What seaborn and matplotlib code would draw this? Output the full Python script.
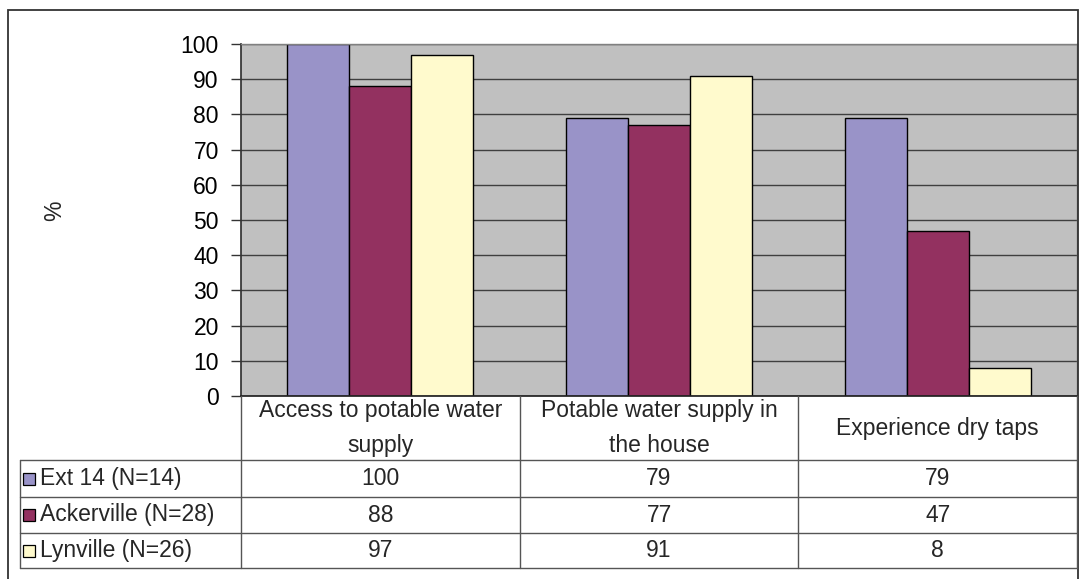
import matplotlib
matplotlib.use("Agg")
import matplotlib.pyplot as plt
from matplotlib.lines import Line2D
from matplotlib.patches import Rectangle
from matplotlib.transforms import blended_transform_factory
import seaborn as sns
import pandas as pd

# Survey results (% of households)
categories = ["Access to potable water\nsupply", "Potable water supply in\nthe house", "Experience dry taps"]
groups = ["Ext 14 (N=14)", "Ackerville (N=28)", "Lynville (N=26)"]
ext14 = [100, 79, 79]
ackerville = [88, 77, 47]
lynville = [97, 91, 8]
colors = ["#9993C8", "#933160", "#FFFACD"]
yticks = list(range(0, 101, 10))

series = [ext14, ackerville, lynville]
df = pd.DataFrame({
    "category": [c for _ in groups for c in categories],
    "group": [g for g in groups for _ in categories],
    "value": [v for s in series for v in s],
})

sns.set_theme(style="white")
plt.rcParams["font.family"] = ["Liberation Sans", "DejaVu Sans"]
FS = 16.5

W, H = 1080, 579
fig = plt.figure(figsize=(W / 100, H / 100), dpi=100)


def fx(x):
    return x / W


def fy(y):
    return 1 - y / H


ax_left, ax_right, ax_top, ax_bottom = 241, 1077, 44, 396
ax = fig.add_axes([fx(ax_left), fy(ax_bottom), fx(ax_right - ax_left), (ax_bottom - ax_top) / H])
ax.set_facecolor("#C0C0C0")

sns.barplot(data=df, x="category", y="value", hue="group", order=categories,
            hue_order=groups, palette=colors, saturation=1, width=0.667,
            edgecolor="black", linewidth=1, legend=False, ax=ax)

ax.set_xlim(-0.5, len(categories) - 0.5)
ax.set_ylim(0, 100)
ax.set_yticks(yticks)
ax.set_yticklabels([str(t) for t in yticks], fontsize=FS, color="black")
ax.set_xticks([])
ax.set_xlabel("")
ax.set_ylabel("")
ax.yaxis.grid(True, color="#3F3F3F", linewidth=1)
ax.set_axisbelow(True)
ax.tick_params(axis="y", direction="out", length=7, width=1, color="#333333", pad=9, left=True)
for side in ["top", "right"]:
    ax.spines[side].set_color("#808080")
    ax.spines[side].set_linewidth(1)
ax.spines["left"].set_color("#333333")
ax.spines["bottom"].set_color("#222222")
for sp in ax.spines.values():
    sp.set_visible(True)

fig.text(fx(55), fy(211), "%", rotation=90, ha="center", va="center", fontsize=FS)

# Outer chart frame
fig.add_artist(Rectangle((fx(8), fy(590)), fx(1078 - 8), (590 - 10) / H,
                         transform=fig.transFigure, fill=False,
                         edgecolor="#333333", linewidth=1.3))

# Data table below the plot, columns aligned with the category axis
tr = blended_transform_factory(ax.transData, fig.transFigure)
line_c = "#555555"
header_top, header_bot = 396, 460
row_edges = [460, 497, 533, 568]
n = len(categories)
for b in [i - 0.5 for i in range(n + 1)]:
    fig.add_artist(Line2D([b, b], [fy(header_top), fy(row_edges[-1])], transform=tr,
                          color=line_c, linewidth=1))
fig.add_artist(Line2D([fx(20), fx(20)], [fy(header_bot), fy(row_edges[-1])],
                      transform=fig.transFigure, color=line_c, linewidth=1))
for y in row_edges:
    fig.add_artist(Line2D([fx(20), fx(ax_right)], [fy(y), fy(y)],
                          transform=fig.transFigure, color=line_c, linewidth=1))

for i, cat in enumerate(categories):
    fig.text(i, fy((header_top + header_bot) / 2), cat, transform=tr, ha="center",
             va="center", fontsize=FS, linespacing=1.65)

for r, (g, s, c) in enumerate(zip(groups, series, colors)):
    yc = (row_edges[r] + row_edges[r + 1]) / 2
    fig.add_artist(Rectangle((fx(23), fy(yc + 6)), fx(12), 12 / H,
                             transform=fig.transFigure, facecolor=c,
                             edgecolor="black", linewidth=0.9))
    fig.text(fx(40), fy(yc), g, ha="left", va="center", fontsize=FS)
    for i, v in enumerate(s):
        fig.text(i, fy(yc), str(v), transform=tr, ha="center", va="center", fontsize=FS)

fig.savefig("out.png", dpi=100)
